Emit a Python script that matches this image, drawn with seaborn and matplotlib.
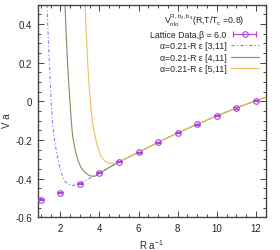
import numpy as np
import matplotlib
matplotlib.use("Agg")
import matplotlib.pyplot as plt
import pandas as pd
import seaborn as sns
from matplotlib.ticker import MultipleLocator
from matplotlib.lines import Line2D
from matplotlib.legend_handler import HandlerLine2D

# lattice data
DATA_R = [1, 2, 3, 4, 5, 6, 7, 8, 9, 10, 11, 12]
DATA_V = [-0.508, -0.473, -0.425, -0.370, -0.313, -0.263, -0.212, -0.163, -0.118, -0.075, -0.034, 0.004]
DATA_ERR = [0.003, 0.003, 0.003, 0.003, 0.003, 0.003, 0.003, 0.003, 0.003, 0.003, 0.003, 0.003]

# common large-R part of the three fits
TAIL_R = [6, 7, 8, 9, 10, 11, 12, 12.5]
TAIL_V = [-0.263, -0.212, -0.163, -0.118, -0.075, -0.034, 0.004, 0.021]

# fit [3,11]
FIT3_R = [1.32, 1.38, 1.44, 1.52, 1.61, 1.69, 1.78, 1.86, 2.0, 2.12, 2.25, 2.4, 2.6, 2.8, 3.0,
          3.3, 3.6, 4.0, 4.5, 5.0]
FIT3_V = [0.50, 0.34, 0.20, 0.02, -0.12, -0.19, -0.245, -0.29, -0.35, -0.39, -0.415, -0.428,
          -0.435, -0.432, -0.425, -0.409, -0.392, -0.370, -0.342, -0.313]
# fit [4,11]
FIT4_R = [2.24, 2.30, 2.37, 2.44, 2.50, 2.56, 2.63, 2.72, 2.81, 2.92, 3.05, 3.2, 3.35, 3.5,
          3.7, 3.85, 4.0, 4.5, 5.0]
FIT4_V = [0.50, 0.35, 0.20, 0.08, -0.01, -0.10, -0.18, -0.23, -0.27, -0.31, -0.34, -0.36,
          -0.375, -0.384, -0.388, -0.384, -0.372, -0.342, -0.313]
# fit [5,11]
FIT5_R = [3.27, 3.33, 3.40, 3.46, 3.52, 3.58, 3.66, 3.74, 3.82, 3.91, 4.0, 4.09, 4.2, 4.34,
          4.5, 4.65, 4.85, 5.0]
FIT5_V = [0.50, 0.35, 0.20, 0.10, 0.02, -0.05, -0.12, -0.16, -0.20, -0.235, -0.262, -0.285,
          -0.30, -0.313, -0.32, -0.322, -0.318, -0.313]

DATA_LABEL = "Lattice Data,β = 6.0"
LABELS = ["α=0.21-R ε [3,11]", "α=0.21-R ε [4,11]", "α=0.21-R ε [5,11]"]

sns.set_theme(style="ticks")
plt.rcParams['font.family'] = ['Liberation Sans', 'DejaVu Sans']
plt.rcParams['mathtext.fontset'] = 'custom'
plt.rcParams['mathtext.rm'] = 'Liberation Sans'
plt.rcParams['mathtext.it'] = 'Liberation Sans:italic'

fig = plt.figure(figsize=(2.8, 2.51), dpi=100)
ax = fig.add_axes([0.135, 0.13, 0.814, 0.847])

# Build one table for the fit curves
frames = []
for lab, r, v in zip(LABELS, [FIT3_R, FIT4_R, FIT5_R], [FIT3_V, FIT4_V, FIT5_V]):
    frames.append(pd.DataFrame({'R': r + TAIL_R, 'V': v + TAIL_V, 'fit': lab}))
fits = pd.concat(frames, ignore_index=True)

pt_col = '#b040e0'
# lattice points with error bars
ax.errorbar(DATA_R, DATA_V, yerr=DATA_ERR, fmt='o', mfc='none', mec=pt_col, ecolor=pt_col,
            ms=4, mew=0.8, elinewidth=0.8, capsize=2, zorder=5)

colors = ['#8080ff', '#7c9060', '#f0c060']
styles = [(0, (3, 2, 1, 2)), '-', '-']
handles = []
for lab, c, ls in zip(LABELS, colors, styles):
    sns.lineplot(data=fits[fits['fit'] == lab], x='R', y='V', color=c, lw=0.8, ls=ls,
                 estimator=None, sort=False, ax=ax)
    handles.append(Line2D([], [], color=c, lw=0.8, ls=ls))

ax.set_xlim(0.85, 12.5)
ax.set_ylim(-0.6, 0.5)
ax.set_xticks([2, 4, 6, 8, 10, 12])
ax.set_yticks([-0.6, -0.4, -0.2, 0, 0.2, 0.4])
ax.set_yticklabels(['-0.6', '-0.4', '-0.2', '0', '0.2', '0.4'])
ax.xaxis.set_minor_locator(MultipleLocator(0.5))
ax.yaxis.set_minor_locator(MultipleLocator(0.05))
ax.tick_params(which='both', direction='in', top=True, right=True, labelsize=7, width=0.6)
ax.tick_params(which='major', length=4, pad=4)
ax.tick_params(which='minor', length=2)
for s in ax.spines.values():
    s.set_linewidth(1.0)
    s.set_color('#444444')

ax.set_xlabel(r"R a$^{-1}$", fontsize=7, labelpad=3)
ax.set_ylabel("V a", fontsize=7)
ax.yaxis.set_label_coords(-0.115, 0.46)

# legend handle for the data: horizontal bar with caps and a circle
caps = Line2D([], [], color=pt_col, lw=0.8, marker='|', ms=4, mew=0.8)
circ = Line2D([], [], color=pt_col, ls='none', marker='o', mfc='none', ms=4, mew=0.8)
leg = ax.legend([(caps, circ)] + handles, [DATA_LABEL] + LABELS,
                handler_map={caps: HandlerLine2D(numpoints=2)},
                loc='upper right', frameon=False, markerfirst=False, fontsize=6.3,
                title=r"V$^{\mathrm{R,b_2,b_4}}_{\mathrm{nlo}}$(R,T/T$_\mathrm{c}$ =0.8)",
                title_fontsize=6.3, handlelength=3.2, labelspacing=0.25,
                borderaxespad=0.4, handletextpad=0.5)
for t in leg.get_texts():
    t.set_ha('right')

fig.savefig('out.png', dpi=100)
